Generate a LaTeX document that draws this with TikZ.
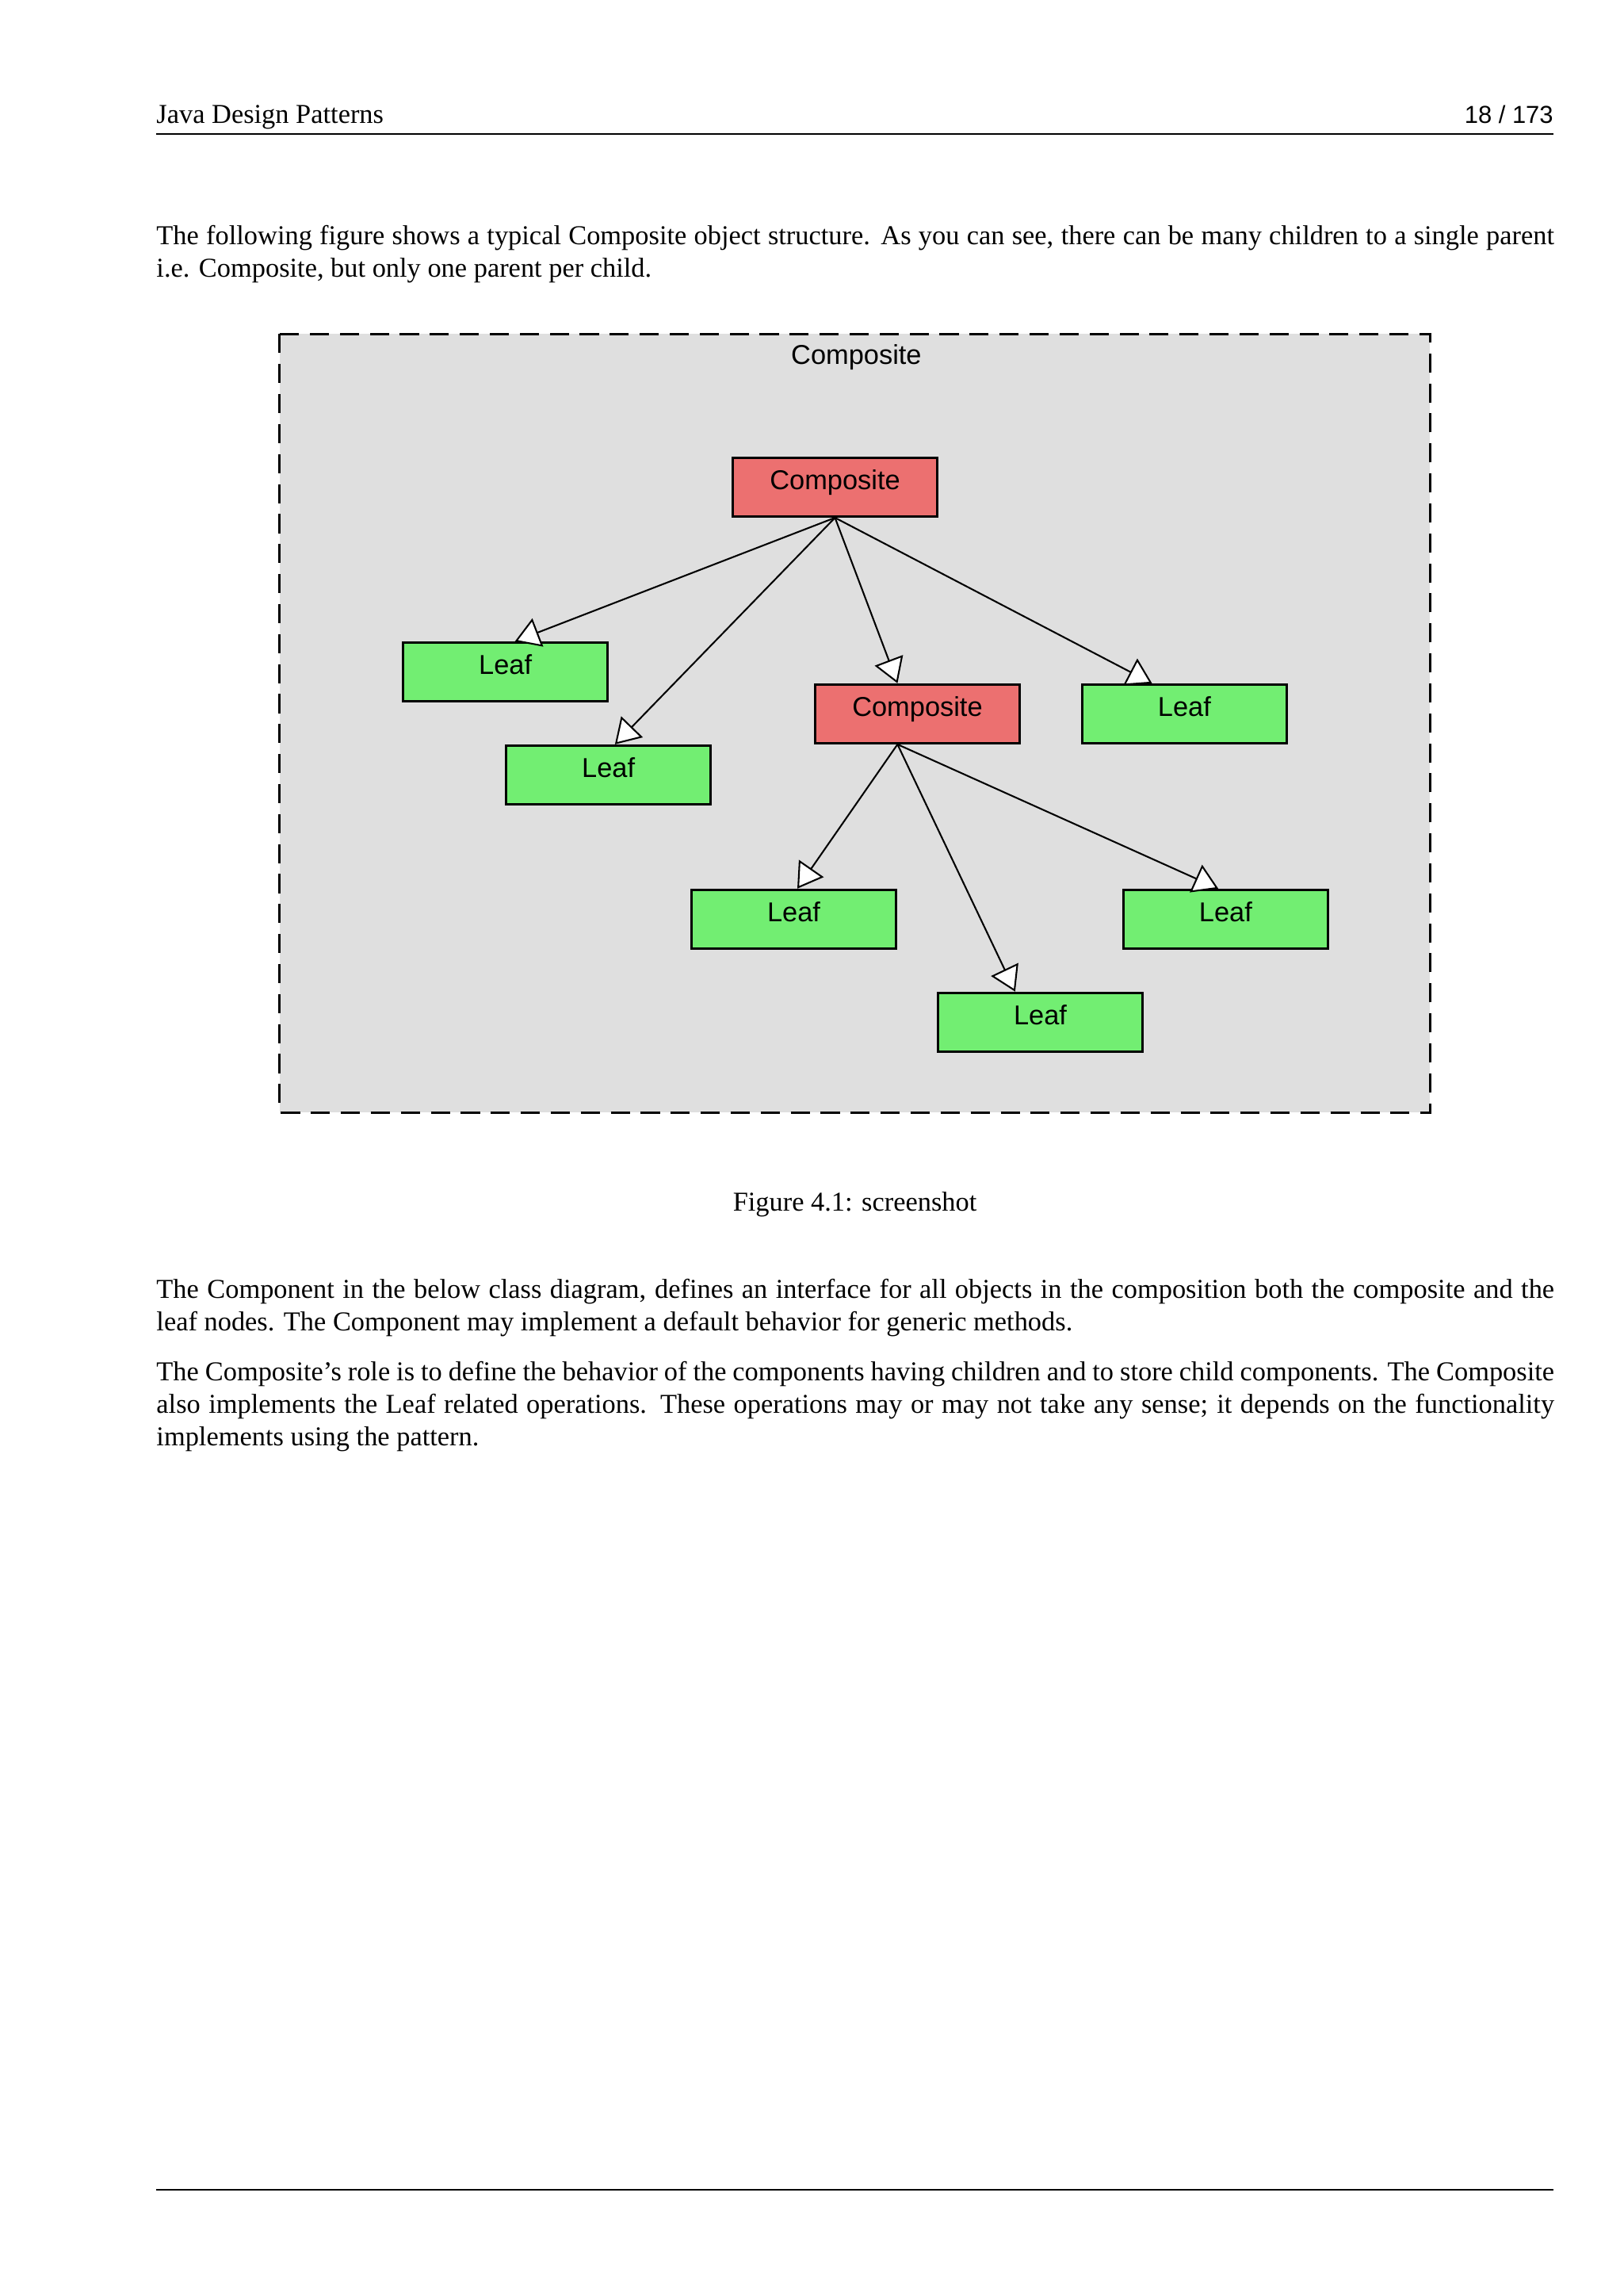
\documentclass[tikz,border=0pt]{standalone}
\usepackage{fontspec}
\setmainfont{Liberation Serif}
\setsansfont{Liberation Sans}
\usetikzlibrary{arrows.meta}

\definecolor{panelgray}{RGB}{223,223,223}
\definecolor{compred}{RGB}{236,112,112}
\definecolor{leafgreen}{RGB}{114,238,114}

\begin{document}
\begin{tikzpicture}[x=0.5397pt, y=-0.5397pt,
    pagetext/.style={inner sep=0pt, font=\fontsize{10}{12}\selectfont},
    bodytext/.style={pagetext, anchor=base west, text width=512.7pt, align=justify},
    compbox/.style={draw=black, line width=0.8pt, fill=compred, minimum width=75pt,
        minimum height=21.6pt, inner sep=0pt, text height=7pt, text depth=5pt,
        font=\sffamily\fontsize{10}{12}\selectfont},
    leafbox/.style={compbox, fill=leafgreen},
    childline/.style={line width=0.6pt, -{Triangle[open, fill=white, length=9pt, width=11pt]}}]
    \fill[white] (0,0) rectangle (1103.2,1560);
    \useasboundingbox (0,0) rectangle (1103.2,1560);

    % page head
    \node[pagetext, anchor=base west] (head) at (106,84) {Java Design Patterns};
    \node[pagetext, anchor=base east, font=\sffamily\fontsize{9}{11}\selectfont] (pageno) at (1056,84) {18 / 173};
    \draw[line width=0.6pt] (106,91) -- (1056,91);

    \node[bodytext] (intro) at (106,166) {The following figure shows a typical Composite object structure.
        As you can see, there can be many children to a single parent\linebreak
        i.e. Composite, but only one parent per child.};

    % the screenshot
    \filldraw[fill=panelgray, draw=black, line width=0.9pt, dash pattern=on 7pt off 4pt] (190,227) rectangle (972,756);
    \node[font=\sffamily\fontsize{10}{12}\selectfont] (paneltitle) at (582,243) {Composite};

    \node[compbox] (root) at (567.5,331) {Composite};
    \node[leafbox] (leafa) at (343.5,456.5) {Leaf};
    \node[leafbox] (leafb) at (413.5,526.5) {Leaf};
    \node[compbox] (inner) at (623.5,485) {Composite};
    \node[leafbox] (leafc) at (805,485) {Leaf};
    \node[leafbox] (leafd) at (539.5,624.5) {Leaf};
    \node[leafbox] (leafe) at (833,624.5) {Leaf};
    \node[leafbox] (leaff) at (707,694.5) {Leaf};

    \draw[childline] (root.south) -- ([xshift=3.5pt]leafa.north);
    \draw[childline] (root.south) -- ([xshift=2.4pt]leafb.north);
    \draw[childline] (root.south) -- ([xshift=-7.3pt]inner.north);
    \draw[childline] (root.south) -- ([xshift=-11.9pt]leafc.north);

    \draw[childline] ([xshift=-7.3pt]inner.south) -- ([xshift=1.3pt]leafd.north);
    \draw[childline] ([xshift=-7.3pt]inner.south) -- ([xshift=-9.2pt]leaff.north);
    \draw[childline] ([xshift=-7.3pt]inner.south) -- ([xshift=-2.7pt]leafe.north);

    \node[pagetext, anchor=base] (caption) at (581,823) {Figure 4.1: screenshot};

    \node[bodytext] (parta) at (106,882) {The Component in the below class diagram, defines an interface for all
        objects in the composition both the composite and the\linebreak
        leaf nodes. The Component may implement a default behavior for generic methods.};
    \node[bodytext] (partb) at (106,938) {The Composite’s role is to define the behavior of the components having
        children and to store child components. The Composite\linebreak
        also implements the Leaf related operations. These operations may or may not take any sense;
        it depends on the functionality\linebreak
        implements using the pattern.};

    % page foot
    \draw[line width=0.6pt] (106,1488) -- (1056,1488);
\end{tikzpicture}
\end{document}
